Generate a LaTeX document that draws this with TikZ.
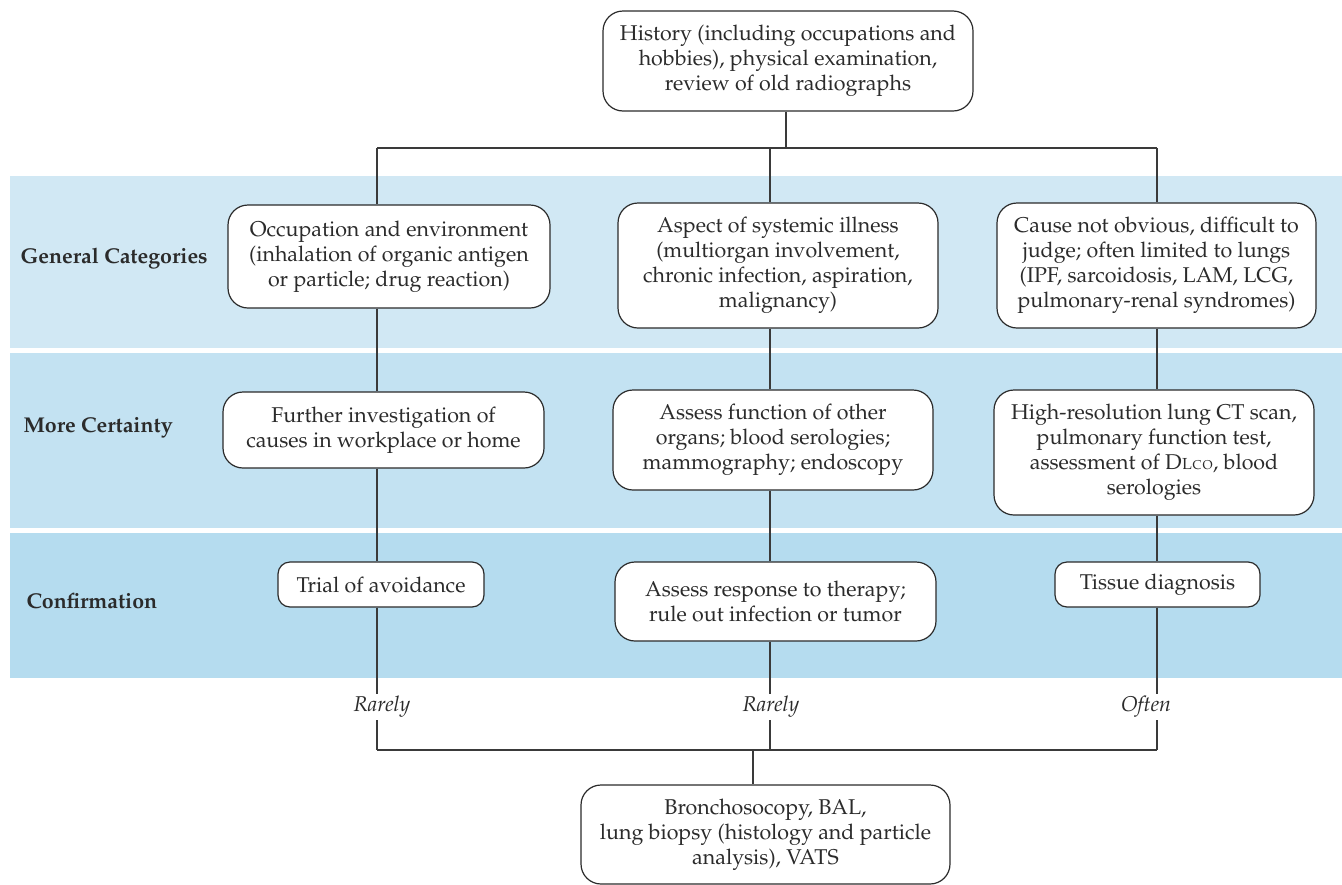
\documentclass[tikz,border=0pt]{standalone}
\usepackage[T1]{fontenc}
\usepackage{mathpazo}
\definecolor{bandA}{HTML}{D1E8F4}
\definecolor{bandB}{HTML}{C3E2F2}
\definecolor{bandC}{HTML}{B5DCEF}
\definecolor{ink}{HTML}{2B2B2B}
\definecolor{wire}{HTML}{3A3A3A}
\tikzset{
  box/.style={draw=ink, line width=1.2pt, rounded corners=20pt, fill=white, align=center,
     text=ink, inner sep=0pt, font=\fontsize{21.4}{25}\selectfont},
  rowlabel/.style={anchor=west, text=ink, font=\fontsize{21.4}{25}\selectfont\bfseries},
  freq/.style={fill=white, text=ink, inner sep=2pt, font=\fontsize{21.4}{25}\selectfont\itshape},
  wireline/.style={draw=wire, line width=1.2pt}
}
\begin{document}
\begin{tikzpicture}[x=1pt,y=-1pt]
\useasboundingbox (0,0) rectangle (1342,884);
% bands
\fill[bandA] (10,176) rectangle (1342,348);
\fill[bandB] (10,353) rectangle (1342,528);
\fill[bandC] (10,533) rectangle (1342,678);
\node[rowlabel] (lg) at (17,259) {General Categories};
\node[rowlabel] (lm) at (20,428) {More Certainty};
\node[rowlabel] (lc) at (23,601) {Confirmation};
% junction coordinates
\coordinate (s) at (786,148);
\coordinate (j1) at (377,148);
\coordinate (j2) at (770,148);
\coordinate (j3) at (1157,148);
\coordinate (k1) at (377,750);
\coordinate (k2) at (770,750);
\coordinate (k3) at (1157,750);
\coordinate (t) at (753,750);
% nodes
\node[box, minimum width=370pt, minimum height=100pt] (top) at (788,61)
  {History (including occupations and\\hobbies), physical examination,\\review of old radiographs};
\node[box, minimum width=322pt, minimum height=103pt] (a1) at (389,256.5)
  {Occupation and environment\\(inhalation of organic antigen\\or particle; drug reaction)};
\node[box, minimum width=320pt, minimum height=125pt] (a2) at (778,265.5)
  {Aspect of systemic illness\\(multiorgan involvement,\\chronic infection, aspiration,\\malignancy)};
\node[box, minimum width=319pt, minimum height=125pt] (a3) at (1156.5,265.5)
  {Cause not obvious, difficult to\\judge; often limited to lungs\\(IPF, sarcoidosis, LAM, LCG,\\pulmonary-renal syndromes)};
\node[box, minimum width=321pt, minimum height=76pt] (b1) at (383.5,430)
  {Further investigation of\\causes in workplace or home};
\node[box, minimum width=320pt, minimum height=100pt] (b2) at (773,440)
  {Assess function of other\\organs; blood serologies;\\mammography; endoscopy};
\node[box, minimum width=320pt, minimum height=125pt] (b3) at (1154,452.5)
  {High-resolution lung CT scan,\\pulmonary function test,\\assessment of D{\fontsize{16}{16}\selectfont\textsc{Lco}}, blood\\serologies};
\node[box, minimum width=206pt, minimum height=45pt, rounded corners=12pt] (c1) at (381,584.5)
  {Trial of avoidance};
\node[box, minimum width=321pt, minimum height=79pt] (c2) at (775.5,601.5)
  {Assess response to therapy;\\rule out infection or tumor};
\node[box, minimum width=205pt, minimum height=45pt, rounded corners=12pt] (c3) at (1157.5,584.5)
  {Tissue diagnosis};
\node[box, minimum width=369pt, minimum height=99pt] (bot) at (765.5,834.5)
  {Bronchosocopy, BAL,\\lung biopsy (histology and particle\\analysis), VATS};
% connectors (drawn after nodes; they meet node borders)
\draw[wireline] (top.south -| s) -- (s);
\draw[wireline] (j1) -- (j3);
\draw[wireline] (j1) -- (a1.north -| j1);
\draw[wireline] (j2) -- (a2.north -| j2);
\draw[wireline] (j3) -- (a3.north -| j3);
\draw[wireline] (a1.south -| j1) -- (b1.north -| j1);
\draw[wireline] (a2.south -| j2) -- (b2.north -| j2);
\draw[wireline] (a3.south -| j3) -- (b3.north -| j3);
\draw[wireline] (b1.south -| j1) -- (c1.north -| j1);
\draw[wireline] (b2.south -| j2) -- (c2.north -| j2);
\draw[wireline] (b3.south -| j3) -- (c3.north -| j3);
\draw[wireline] (c1.south -| k1) -- (k1);
\draw[wireline] (c2.south -| k2) -- (k2);
\draw[wireline] (c3.south -| k3) -- (k3);
\draw[wireline] (k1) -- (k3);
\draw[wireline] (t) -- (bot.north -| t);
% frequency labels
\node[freq] (r1) at (382,707) {Rarely};
\node[freq] (r2) at (771,707) {Rarely};
\node[freq] (r3) at (1146,707) {Often};
\end{tikzpicture}
\end{document}
